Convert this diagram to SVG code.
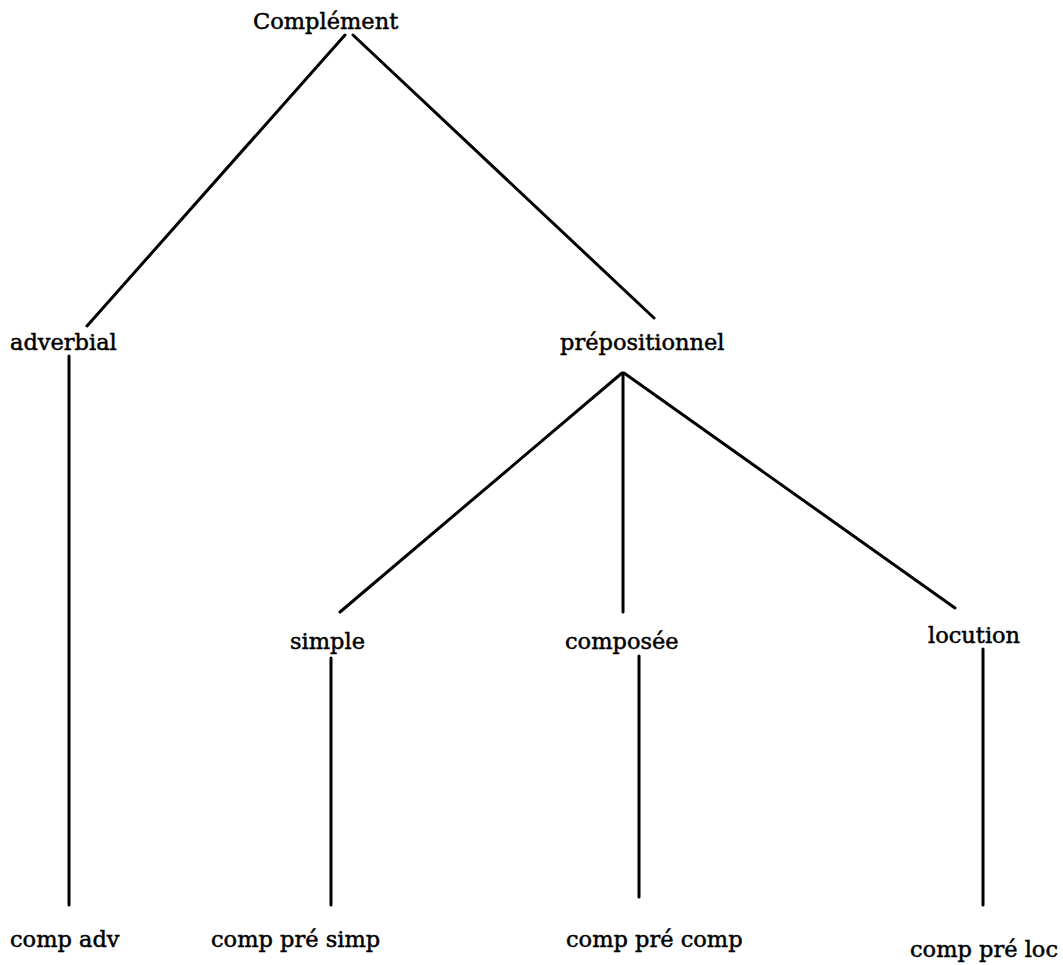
<svg xmlns="http://www.w3.org/2000/svg" width="1063" height="965" viewBox="0 0 1063 965">
<style>
text{font-family:"DejaVu Serif","Liberation Serif",serif;font-size:22.5px;fill:#000;stroke:#000;stroke-width:0.5}
.c line{stroke:#000;stroke-width:3;stroke-linecap:round}
</style>
<rect width="1063" height="965" fill="#fff"/>
<g class="c" id="connectors">
<line x1="345" y1="35" x2="87" y2="326"/>
<line x1="353" y1="35" x2="654" y2="318"/>
<line x1="69" y1="356" x2="69" y2="905"/>
<line x1="622" y1="373" x2="340" y2="612"/>
<line x1="623" y1="373" x2="623" y2="612"/>
<line x1="624" y1="373" x2="955" y2="608"/>
<line x1="331" y1="658" x2="331" y2="905"/>
<line x1="639" y1="656" x2="639" y2="897"/>
<line x1="983" y1="649" x2="983" y2="905"/>
</g>
<g id="n-complement"><text x="253" y="29">Complément</text></g>
<g id="n-adverbial"><text x="10" y="350">adverbial</text></g>
<g id="n-prepositionnel"><text x="560" y="350">prépositionnel</text></g>
<g id="n-simple"><text x="290" y="649">simple</text></g>
<g id="n-composee"><text x="565" y="649">composée</text></g>
<g id="n-locution"><text x="928" y="643">locution</text></g>
<g id="n-comp-adv"><text x="10" y="947">comp adv</text></g>
<g id="n-comp-pre-simp"><text x="211" y="947">comp pré simp</text></g>
<g id="n-comp-pre-comp"><text x="566" y="947">comp pré comp</text></g>
<g id="n-comp-pre-loc"><text x="910" y="957">comp pré loc</text></g>
</svg>
